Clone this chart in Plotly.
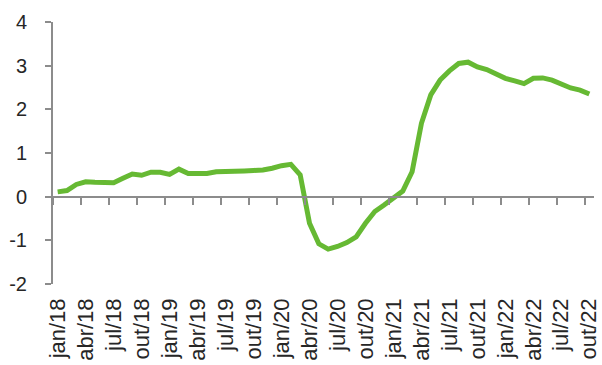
import plotly.graph_objects as go

# Monthly series, jan/2018 .. out/2022 (percent)
months_pt = ["jan", "fev", "mar", "abr", "mai", "jun", "jul", "ago", "set", "out", "nov", "dez"]
years = ["18", "19", "20", "21", "22"]

values_2018 = [0.11, 0.14, 0.28, 0.34, 0.33, 0.32, 0.32, 0.42, 0.52, 0.49, 0.56, 0.56]
values_2019 = [0.51, 0.63, 0.53, 0.53, 0.53, 0.57, 0.57, 0.58, 0.59, 0.60, 0.61, 0.65]
values_2020 = [0.71, 0.74, 0.50, -0.61, -1.08, -1.20, -1.14, -1.05, -0.92, -0.61, -0.34, -0.19]
values_2021 = [-0.04, 0.13, 0.57, 1.68, 2.33, 2.67, 2.88, 3.05, 3.08, 2.97, 2.91, 2.80]
values_2022 = [2.71, 2.65, 2.59, 2.71, 2.72, 2.67, 2.58, 2.49, 2.44, 2.35]

values = values_2018 + values_2019 + values_2020 + values_2021 + values_2022
categories = [f"{m}/{y}" for y in years for m in months_pt][: len(values)]
idx = list(range(len(values)))

# quarterly labels and tick marks placed between categories
label_step = 3
label_pos = idx[::label_step]
label_text = [categories[i] for i in label_pos]
boundary_pos = [i - 0.5 for i in range(0, len(values) + 1, label_step)]

y_min, y_max = -2, 4
y_ticks = list(range(y_min, y_max + 1))
y_tick_text = [str(v) for v in y_ticks]  # plain hyphen for negatives

axis_grey = "#8c8c8c"
text_col = "#262626"
font_family = "Liberation Sans, Arial, sans-serif"

fig = go.Figure()
fig.add_trace(go.Scatter(
    x=idx, y=values, mode="lines",
    line=dict(color="#66b933", width=5),
    hoverinfo="skip", showlegend=False,
))
# invisible helper trace so the second x axis (zero line with tick marks) is drawn
fig.add_trace(go.Scatter(
    x=[idx[0], idx[-1]], y=[0, 0], xaxis="x2", mode="lines",
    line=dict(width=0), hoverinfo="skip", showlegend=False,
))

fig.update_layout(
    width=602, height=365,
    margin=dict(l=53, r=8, t=22, b=81),
    paper_bgcolor="white", plot_bgcolor="white",
    font=dict(family=font_family, color=text_col),
    xaxis=dict(
        range=[-0.5, len(values) - 0.5],
        tickvals=label_pos, ticktext=label_text,
        tickangle=-90, tickfont=dict(size=22, color=text_col),
        showline=False, showgrid=False, zeroline=False, ticks="",
        ticklabelstandoff=9, automargin=False,
    ),
    xaxis2=dict(
        overlaying="x", anchor="free",
        position=(0 - y_min) / (y_max - y_min),
        range=[-0.5, len(values) - 0.5],
        tickvals=boundary_pos, showticklabels=False,
        ticks="outside", ticklen=7, tickwidth=2, tickcolor=axis_grey,
        showline=True, linecolor=axis_grey, linewidth=2,
        showgrid=False, zeroline=False,
    ),
    yaxis=dict(
        range=[y_min, y_max],
        tickvals=y_ticks, ticktext=y_tick_text,
        tickfont=dict(size=20, color=text_col),
        ticks="outside", ticklen=6, tickwidth=2, tickcolor=axis_grey,
        showline=True, linecolor=axis_grey, linewidth=2,
        showgrid=False, zeroline=False,
        ticklabelstandoff=14, automargin=False,
    ),
)

fig.write_html("out.html")
